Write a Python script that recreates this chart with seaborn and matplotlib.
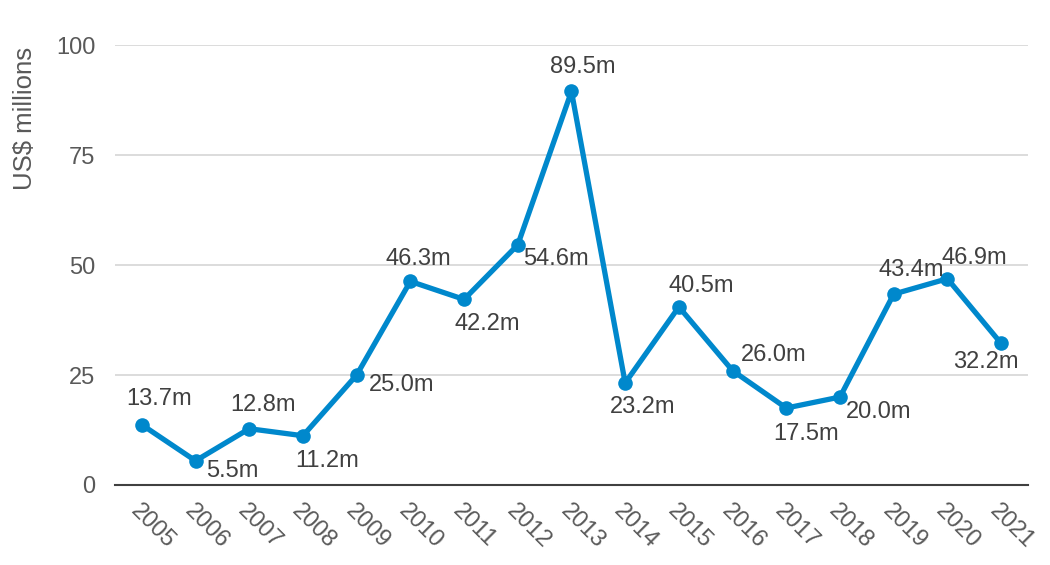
import matplotlib
matplotlib.use("Agg")
import matplotlib.pyplot as plt
import seaborn as sns
import pandas as pd

years = ["2005", "2006", "2007", "2008", "2009", "2010", "2011", "2012", "2013",
         "2014", "2015", "2016", "2017", "2018", "2019", "2020", "2021"]
values = [13.7, 5.5, 12.8, 11.2, 25.0, 46.3, 42.2, 54.6, 89.5,
          23.2, 40.5, 26.0, 17.5, 20.0, 43.4, 46.9, 32.2]
yticks = [0, 25, 50, 75, 100]

sns.set_theme(style="white")
plt.rcParams['font.family'] = ['Liberation Sans', 'DejaVu Sans']

TEXT = "#595959"
LINE = "#0088CC"

fig = plt.figure(figsize=(10.5, 5.65), dpi=100)
ax = fig.add_axes([0.1095, 0.1416, 0.8695, 0.7784])

df = pd.DataFrame({"pos": range(len(years)), "value": values})
sns.lineplot(data=df, x="pos", y="value", ax=ax, color=LINE, linewidth=3.8,
             marker="o", markersize=10.5, markeredgewidth=0, zorder=3)

# label offsets in pixels (dx, dy) - style only
offsets = [(17, 26), (37, -10), (14, 24), (24, -25), (45, -10), (8, 22),
           (23, -25), (38, -14), (11, 24), (17, -24), (22, 21), (41, 16),
           (20, -26), (39, -15), (18, 24), (27, 21), (-15, -19)]
for i, (v, off) in enumerate(zip(values, offsets)):
    ax.annotate(f"{v:.1f}m", (i, v), xytext=off, textcoords="offset pixels",
                ha="center", va="center", fontsize=17, color="#404040", zorder=4)

ax.set_xlim(-0.5, len(years) - 0.5)
ax.set_ylim(0, 100)
ax.set_yticks(yticks)
ax.set_yticklabels([str(t) for t in yticks], fontsize=17, color=TEXT)
ax.set_xticks(range(len(years)))
ax.set_xticklabels(years, fontsize=17, color=TEXT, rotation=-45,
                   ha="left", va="top", rotation_mode="anchor")
ax.tick_params(axis="x", length=0, pad=11)
ax.tick_params(axis="y", length=0, pad=14)
ax.set_xlabel("")
ax.set_ylabel("US$ millions", fontsize=18.5, color=TEXT)
ax.yaxis.set_label_coords(-0.0854, 0.834)

ax.yaxis.grid(True, color="#D9D9D9", linewidth=1.3)
ax.xaxis.grid(False)
for s in ["top", "right", "left"]:
    ax.spines[s].set_visible(False)
ax.spines["bottom"].set_color("#404040")
ax.spines["bottom"].set_linewidth(1.5)

fig.savefig("out.png", dpi=100, facecolor="white")
